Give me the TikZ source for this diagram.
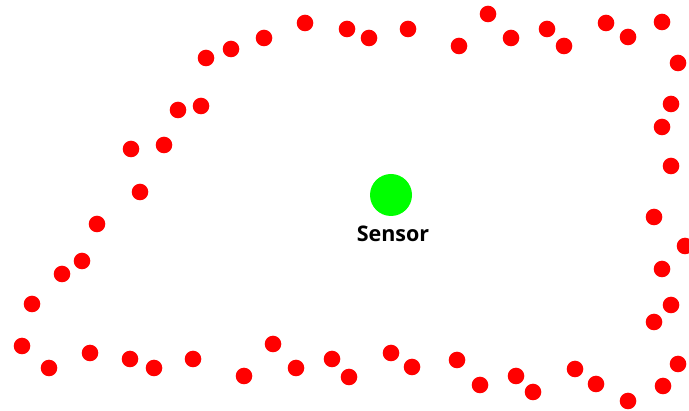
\documentclass[tikz,border=0pt]{standalone}
\usepackage{fontspec}
\setsansfont{Open Sans}
\usepackage{tikz}
\usetikzlibrary{positioning}
\usepackage{xcolor}

\tikzset{
  obstacle/.style={circle, fill=red, inner sep=0pt, minimum size=16.6pt},
  sensornode/.style={circle, fill=green, inner sep=0pt, minimum size=42pt}
}

\begin{document}
\begin{tikzpicture}[x=1pt, y=-1pt]
    \useasboundingbox (0,0) rectangle (689,411);

    % Obstacles along the boundary
    \foreach \px/\py [count=\k] in {
        305/23, 347/29, 369/38, 408/29, 459/46, 488/14, 511/38, 547/29,
        564/46, 606/23, 628/37, 662/22, 678/63,
        264/38, 231/49, 206/58, 201/106, 178/110, 164/145, 131/149,
        140/192, 97/224, 82/261, 62/274, 32/304, 22/346, 49/368,
        90/353, 130/359, 154/368, 193/359, 244/376, 273/344, 296/368,
        332/359, 349/377, 391/353, 412/367, 457/360, 480/385, 516/376,
        533/392, 575/369, 596/384, 628/401, 663/386, 678/364,
        671/104, 662/127, 671/166, 654/217, 685/246, 662/269, 671/305, 654/322}
        \node[obstacle] (obs\k) at (\px,\py) {};

    % Sensor in the middle
    \node[sensornode] (sensor) at (391,195) {};
    \node[below=6pt of sensor, xshift=2pt, font=\sffamily\bfseries\fontsize{21.5}{25}\selectfont] (sensorlabel) {Sensor};
\end{tikzpicture}
\end{document}
